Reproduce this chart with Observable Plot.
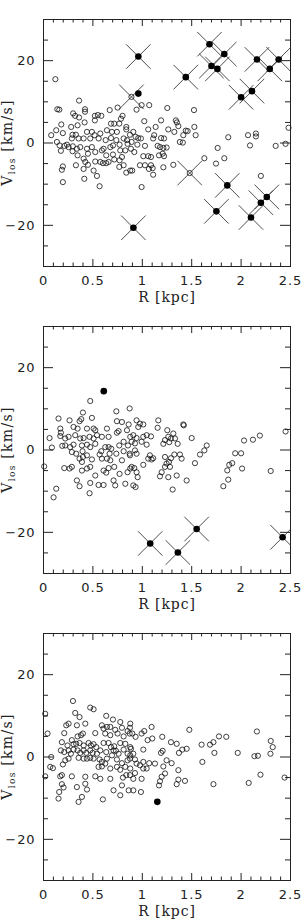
<!DOCTYPE html>
<html>
<head>
<meta charset="utf-8">
<script src="https://cdn.jsdelivr.net/npm/d3@7"></script>
<script src="https://cdn.jsdelivr.net/npm/@observablehq/plot@0.6"></script>
<style>
  body { margin: 0; background: #fff; }
  #chart svg { display: block; }
  #chart svg text { letter-spacing: 0.9px; }
  #chart svg text.title { letter-spacing: 1.3px; }
</style>
</head>
<body>
<div id="chart"></div>
<script>
// Line-of-sight velocity vs projected radius, three samples.
// Each point is [R (kpc), V_los (km/s)].

// ---- Panel 1 ----
const panel1Open = [
  [0.36,10.3],[0.14,8.2],[0.16,8.1],[0.42,8.2],[0.42,7.6],[0.30,7.2],[0.32,6.6],[0.52,6.6],[0.55,6.8],[0.585,6.6],
  [0.67,8.0],[0.75,8.6],[0.36,6.2],[0.52,5.5],[0.18,4.5],[0.28,3.9],[0.345,4.3],[0.416,5.0],[0.683,4.7],[0.716,4.7],
  [0.767,4.7],[0.784,5.9],[0.80,6.6],[0.129,3.1],[0.078,1.9],[0.196,2.4],[0.294,2.0],[0.328,2.0],[0.44,2.7],[0.49,2.7],
  [0.517,1.9],[0.575,2.3],[0.642,3.1],[0.693,2.7],[0.743,2.7],[0.838,3.9],[0.838,3.3],[0.136,0.25],[0.163,-0.6],[0.237,-0.4],
  [0.287,1.1],[0.355,1.1],[0.406,1.1],[0.473,1.1],[0.558,1.1],[0.629,0.7],[0.683,1.2],[0.737,0.7],[0.811,1.1],[0.845,0.7],
  [0.213,-0.7],[0.254,-1.0],[0.297,-0.8],[0.338,-1.4],[0.372,-1.0],[0.44,-1.4],[0.49,-1.0],[0.608,-1.4],[0.676,-1.0],[0.703,-0.6],
  [0.77,-0.4],[0.851,-0.2],[0.176,-1.9],[0.294,-2.0],[0.345,-3.0],[0.45,-2.6],[0.524,-2.2],[0.591,-1.8],[0.635,-3.0],[0.703,-2.8],
  [0.777,-1.8],[0.828,-1.8],[0.406,-3.8],[0.423,-4.6],[0.45,-5.3],[0.524,-4.5],[0.575,-4.6],[0.602,-4.9],[0.635,-4.9],[0.659,-4.6],
  [0.716,-4.0],[0.77,-4.2],[0.794,-3.4],[0.811,-5.4],[0.196,-5.7],[0.186,-6.5],[0.328,-5.4],[0.406,-6.3],[0.507,-6.7],[0.767,-5.8],
  [0.838,-7.2],[0.878,-6.7],[0.413,-8.7],[0.541,-8.0],[0.196,-9.5],[0.568,-10.5],
  [0.942,8.1],[0.993,9.2],[1.07,9.2],[1.253,8.5],[1.523,8.0],[1.02,5.3],[1.19,5.5],[1.34,5.5],[1.35,5.0],[1.06,3.3],
  [1.135,3.9],[1.263,3.3],[1.324,2.7],[1.365,4.1],[1.459,2.9],[1.44,3.0],[1.415,1.9],[1.527,3.9],[1.54,1.9],[0.875,2.0],
  [0.909,2.7],[0.932,1.5],[0.959,1.2],[0.986,1.1],[1.12,1.9],[1.11,1.1],[1.19,1.2],[1.22,1.1],[0.892,0.25],[0.95,-0.4],
  [1.027,-0.7],[1.155,-0.7],[1.18,-1.0],[1.213,-1.2],[1.246,-1.1],[1.38,0.25],[1.41,0.1],[0.885,-1.4],[0.919,-2.2],[1.01,-3.2],
  [1.06,-3.2],[1.088,-3.4],[1.169,-3.0],[1.206,-2.6],[1.22,-3.2],[0.976,-5.4],[1.027,-5.4],[1.088,-5.4],[1.105,-6.1],[1.067,-6.3],
  [1.213,-5.9],[1.314,-5.3],[0.898,-6.7],[1.11,-7.7],[0.993,-10.7],[1.628,-3.7],[1.746,-5.0],[1.763,-1.2],
  [0.12,15.5],[1.87,1.4],[2.07,1.9],[2.15,2.3],[2.15,1.6],[2.09,-0.6],[2.35,-0.7],[2.45,-0.2],[2.48,3.7],[1.83,-3.7],[2.20,-8.0]
];
const panel1OpenCrossed = [[0.89,11.2],[1.48,-7.3]];
const panel1Filled = [[0.96,12.0]];
const panel1FilledCrossed = [
  [0.96,21.0],[1.44,16.0],[1.68,24.0],[1.70,18.7],[1.76,18.0],[1.83,21.6],[2.00,11.1],[2.11,12.6],[2.16,20.3],
  [2.29,18.0],[2.38,20.3],[0.91,-20.6],[1.86,-10.3],[1.75,-16.6],[2.10,-18.1],[2.20,-14.5],[2.26,-13.1]
];

// ---- Panel 2 ----
const panel2Open = [
  [0.473,11.9],[0.399,9.1],[0.152,7.65],[0.264,7.2],[0.365,7.0],[0.382,7.5],[0.49,7.8],[0.737,9.4],[0.872,10.1],[0.743,7.0],
  [0.794,6.8],[0.862,6.2],[0.304,5.6],[0.345,5.2],[0.17,5.2],[0.176,4.2],[0.44,5.2],[0.507,5.2],[0.524,4.8],[0.642,5.2],
  [0.743,4.2],[0.76,4.6],[0.845,4.8],[0.061,2.9],[0.17,3.4],[0.22,2.8],[0.254,3.2],[0.321,3.6],[0.372,2.8],[0.406,2.9],
  [0.466,3.2],[0.507,2.8],[0.541,3.6],[0.591,3.2],[0.659,3.2],[0.811,2.0],[0.855,1.1],[0.878,3.2],[0.085,0.6],[0.22,1.1],
  [0.27,0.7],[0.304,1.3],[0.389,1.1],[0.44,1.3],[0.473,0.7],[0.524,1.5],[0.625,0.7],[0.659,0.7],[0.686,0.3],[0.767,1.1],
  [0.287,-0.5],[0.331,-0.9],[0.395,-0.3],[0.44,-1.3],[0.568,-1.1],[0.585,-0.3],[0.669,-0.9],[0.737,-0.9],[0.811,-0.3],[0.872,-0.9],
  [0.365,-2.1],[0.399,-1.7],[0.389,-2.9],[0.49,-2.3],[0.591,-2.1],[0.642,-2.1],[0.676,-2.5],[0.794,-2.5],[0.007,-4.0],[0.21,-4.4],
  [0.264,-4.5],[0.287,-4.1],[0.389,-5.0],[0.44,-4.5],[0.473,-4.1],[0.524,-6.2],[0.608,-5.0],[0.635,-5.5],[0.659,-4.4],[0.716,-4.1],
  [0.77,-5.8],[0.851,-5.4],[0.878,-4.5],[0.338,-7.4],[0.365,-8.8],[0.473,-8.0],[0.557,-8.5],[0.608,-8.5],[0.709,-7.4],[0.726,-8.6],
  [0.828,-8.2],[0.129,-9.4],[0.102,-11.5],[0.466,-10.5],[0.19,1.0],
  [0.942,7.2],[0.976,6.4],[1.01,6.2],[0.959,5.6],[1.162,7.2],[1.155,5.4],[1.415,6.2],[1.42,6.0],[0.909,3.6],[0.942,2.9],
  [1.01,3.2],[1.044,3.6],[1.088,3.3],[0.892,2.0],[0.926,1.6],[0.993,2.0],[1.044,1.3],[1.253,4.8],[1.314,4.0],[1.263,3.2],
  [1.29,2.8],[1.23,2.4],[1.213,1.5],[1.273,1.9],[1.331,2.8],[1.358,1.5],[1.5,2.9],[1.652,1.1],[1.628,-0.1],[1.584,-1.1],
  [1.533,-3.2],[0.926,-0.1],[0.875,-1.3],[0.942,-0.9],[0.892,-4.1],[0.919,-4.4],[0.942,-5.4],[0.953,-6.6],[0.909,-8.6],[0.932,-9.0],
  [1.01,-3.6],[1.077,-1.3],[1.06,-2.1],[1.094,-2.3],[1.11,-2.0],[1.23,-1.7],[1.29,-2.0],[1.324,-1.1],[1.381,-1.1],[1.398,-2.1],
  [1.246,-3.3],[1.23,-4.1],[1.27,-2.9],[1.28,-4.1],[1.196,-5.4],[1.179,-6.4],[1.263,-6.6],[1.348,-6.2],[1.449,-7.4],[1.307,-9.6],
  [1.94,-0.8],[2.0,-0.8],[2.03,2.3],[2.12,2.5],[2.19,3.5],[2.45,4.5],[1.86,-4.95],[1.88,-3.6],[1.91,-3.2],[1.87,-7.2],
  [1.82,-8.8],[2.01,-4.5],[2.30,-5.1]
];
const panel2Filled = [[0.61,14.3]];
const panel2FilledCrossed = [[1.08,-22.7],[1.36,-24.9],[1.55,-19.2],[2.42,-21.2]];

// ---- Panel 3 ----
const panel3Open = [
  [0.298,13.6],[0.473,12.0],[0.507,11.6],[0.017,10.5],[0.321,10.7],[0.365,9.7],[0.635,10.0],[0.703,9.1],[0.777,8.5],[0.878,8.1],
  [0.23,7.7],[0.254,8.1],[0.338,7.7],[0.423,8.1],[0.591,7.7],[0.608,6.9],[0.642,7.3],[0.676,7.3],[0.726,6.6],[0.794,7.1],
  [0.851,6.3],[0.041,5.7],[0.21,5.8],[0.345,5.0],[0.379,5.3],[0.399,5.7],[0.524,5.8],[0.625,5.7],[0.676,5.3],[0.75,5.7],
  [0.811,5.0],[0.872,5.7],[0.186,3.6],[0.243,2.8],[0.287,4.1],[0.304,3.1],[0.331,3.2],[0.365,3.4],[0.406,2.8],[0.456,3.4],
  [0.48,2.8],[0.507,3.1],[0.534,2.4],[0.608,3.4],[0.659,3.4],[0.683,2.4],[0.716,2.6],[0.777,3.4],[0.828,3.2],[0.878,2.4],
  [0.176,1.6],[0.21,1.2],[0.254,1.6],[0.277,0.8],[0.304,1.8],[0.345,1.6],[0.372,1.0],[0.406,1.6],[0.433,1.0],[0.473,1.6],
  [0.497,1.0],[0.541,0.8],[0.575,1.6],[0.635,1.2],[0.709,1.6],[0.733,1.5],[0.76,0.8],[0.811,1.8],[0.851,0.8],[0.078,0.0],
  [0.22,-0.8],[0.254,-0.4],[0.355,-0.2],[0.406,-0.4],[0.44,-0.4],[0.473,-0.2],[0.507,-0.4],[0.568,-0.6],[0.591,-1.2],[0.642,-0.4],
  [0.693,0.4],[0.743,-0.6],[0.794,-1.5],[0.851,-0.8],[0.878,0.4],[0.068,-2.4],[0.095,-2.7],[0.196,-1.8],[0.557,-2.4],[0.591,-2.3],
  [0.625,-1.6],[0.676,-2.8],[0.743,-2.4],[0.777,-3.1],[0.828,-2.4],[0.878,-2.8],[0.017,-4.7],[0.169,-4.7],[0.186,-4.4],[0.287,-4.7],
  [0.423,-4.8],[0.524,-4.7],[0.575,-5.3],[0.676,-5.3],[0.804,-5.0],[0.838,-4.4],[0.186,-6.6],[0.203,-7.4],[0.338,-7.3],[0.423,-6.5],
  [0.44,-7.9],[0.794,-6.9],[0.862,-8.1],[0.709,-8.1],[0.159,-8.5],[0.152,-10.1],[0.355,-10.9],[0.389,-9.7],[0.601,-10.3],[0.777,-9.3],
  [1.094,7.3],[1.476,6.6],[0.875,7.1],[0.899,5.7],[0.932,4.9],[0.993,5.7],[1.02,6.3],[1.054,4.1],[1.101,4.5],[1.202,4.9],
  [1.29,3.6],[1.348,3.2],[1.405,1.8],[1.449,2.0],[1.6,3.0],[1.685,3.0],[1.72,3.6],[1.776,5.0],[0.885,2.0],[0.909,0.8],
  [1.01,1.8],[1.206,1.5],[1.189,1.0],[1.371,1.0],[1.73,1.0],[0.875,-0.4],[0.926,-0.6],[0.942,-1.6],[0.976,-2.0],[1.01,-1.2],
  [1.07,-1.5],[1.128,-1.6],[1.246,-0.8],[1.297,-1.5],[1.01,-2.8],[1.044,-2.8],[1.213,-2.3],[1.23,-4.0],[1.196,-4.8],[1.365,-3.2],
  [1.608,-1.2],[0.926,-3.9],[0.875,-4.4],[0.909,-5.3],[0.993,-5.3],[1.179,-5.9],[1.365,-5.5],[1.432,-5.8],[1.348,-6.6],[1.169,-6.9],
  [0.909,-8.1],[0.986,-8.5],[1.72,-6.6],
  [1.85,4.9],[1.966,1.0],[2.16,6.2],[2.135,0.2],[2.17,0.3],[2.297,0.8],[2.30,3.9],[2.32,2.4],[2.077,-6.3],[2.196,-4.3],[2.44,-5.0]
];
const panel3Filled = [[1.152,-10.9]];

// ---- Axes ----
const xDomain = [0, 2.5];
const yDomain = [-30, 30];
const xMajor = [0, 0.5, 1, 1.5, 2, 2.5];
const xMinor = [0.1,0.2,0.3,0.4,0.6,0.7,0.8,0.9,1.1,1.2,1.3,1.4,1.6,1.7,1.8,1.9,2.1,2.2,2.3,2.4];
const yMajor = [-20, 0, 20];
const yMinor = [-25, -15, -10, -5, 5, 10, 15, 25];
const xTitle = "R [kpc]";
const yTitleMain = "V", yTitleSub = "los", yTitleUnit = " [km/s]";

const W = 303, H = 307, ML = 43, MR = 13, MT = 19, MB = 41;
const PW = W - ML - MR, PH = H - MT - MB;
const ink = "#222";
const sans = "DejaVu Sans, sans-serif";
const serif = "DejaVu Serif, serif";
const fmtY = d => d < 0 ? "\u2212" + (-d) : String(d);

function frameTicks() {
  return [
    Plot.tickX(xMinor, {x: d => d, insetTop: PH - 3.5, stroke: ink}),
    Plot.tickX(xMinor, {x: d => d, insetBottom: PH - 3.5, stroke: ink}),
    Plot.tickX(xMajor, {x: d => d, insetTop: PH - 7, stroke: ink}),
    Plot.tickX(xMajor, {x: d => d, insetBottom: PH - 7, stroke: ink}),
    Plot.tickY(yMinor, {y: d => d, insetRight: PW - 5, stroke: ink}),
    Plot.tickY(yMinor, {y: d => d, insetLeft: PW - 5, stroke: ink}),
    Plot.tickY(yMajor, {y: d => d, insetRight: PW - 10, stroke: ink}),
    Plot.tickY(yMajor, {y: d => d, insetLeft: PW - 10, stroke: ink})
  ];
}

function panel({open, openCrossed = [], filled = [], filledCrossed = []}) {
  const crossed = openCrossed.concat(filledCrossed);
  const svg = Plot.plot({
    width: W, height: H,
    marginLeft: ML, marginRight: MR, marginTop: MT, marginBottom: MB,
    x: {domain: xDomain},
    y: {domain: yDomain},
    style: {background: "#fff", color: ink},
    marks: [
      Plot.dot(crossed, {x: d => d[0], y: d => d[1], symbol: "times", r: 11.2, stroke: "#3a3a3a", strokeWidth: 0.9, clip: true}),
      Plot.dot(open.concat(openCrossed), {x: d => d[0], y: d => d[1], r: 2.6, stroke: "#111", strokeWidth: 0.8, fill: "none"}),
      Plot.dot(filled.concat(filledCrossed), {x: d => d[0], y: d => d[1], r: 3.3, fill: "#000", stroke: "none"}),
      ...frameTicks(),
      Plot.frame({stroke: ink, strokeWidth: 1}),
      Plot.axisX({ticks: xMajor, anchor: "bottom", tickSize: 0, tickPadding: 9, tickFormat: d => String(d),
                  label: null, fontSize: 13, fontFamily: sans, fill: ink}),
      Plot.axisY({ticks: yMajor, anchor: "left", tickSize: 0, tickPadding: 8, tickFormat: fmtY,
                  label: null, fontSize: 13, fontFamily: sans, fill: ink}),
      Plot.text([xTitle], {text: d => d, frameAnchor: "bottom", dy: 35, fontSize: 14, fontFamily: serif, fill: ink, className: "title"})
    ]
  });
  // rotated y title with subscript
  const t = d3.select(svg).append("text")
    .attr("class", "title")
    .attr("transform", `translate(12,${MT + PH / 2}) rotate(-90)`)
    .attr("text-anchor", "middle")
    .attr("font-family", serif)
    .attr("font-size", 14)
    .attr("fill", ink);
  t.append("tspan").text(yTitleMain);
  t.append("tspan").attr("font-size", 9).attr("dy", 3).text(yTitleSub);
  t.append("tspan").attr("dy", -3).text(yTitleUnit);
  return svg;
}

const chart = document.getElementById("chart");
chart.appendChild(panel({open: panel1Open, openCrossed: panel1OpenCrossed, filled: panel1Filled, filledCrossed: panel1FilledCrossed}));
chart.appendChild(panel({open: panel2Open, filled: panel2Filled, filledCrossed: panel2FilledCrossed}));
chart.appendChild(panel({open: panel3Open, filled: panel3Filled}));
</script>
</body>
</html>
